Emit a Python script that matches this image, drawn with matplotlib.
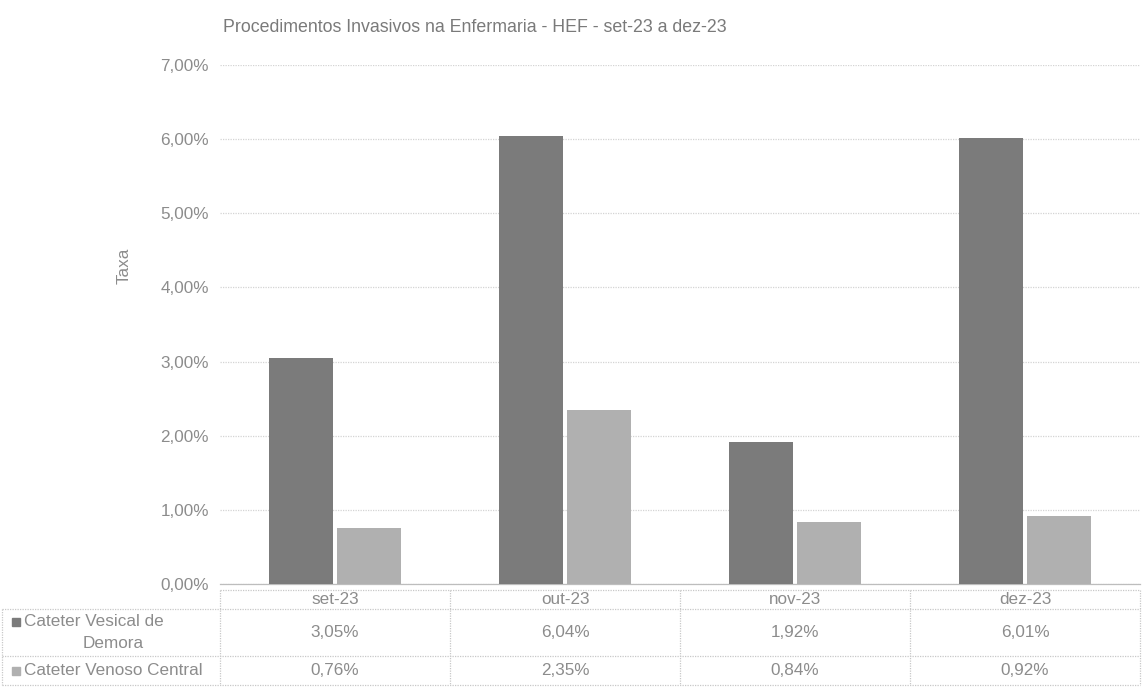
import matplotlib
matplotlib.use('Agg')
import matplotlib.pyplot as plt
from matplotlib.lines import Line2D
from matplotlib.ticker import FuncFormatter

plt.rcParams['font.family'] = ['Liberation Sans', 'DejaVu Sans']

categories = ['set-23', 'out-23', 'nov-23', 'dez-23']
series_names = ['Cateter Vesical de\nDemora', 'Cateter Venoso Central']
vesical = [3.05, 6.04, 1.92, 6.01]
venoso = [0.76, 2.35, 0.84, 0.92]
yticks = [0, 1, 2, 3, 4, 5, 6, 7]
title = 'Procedimentos Invasivos na Enfermaria - HEF - set-23 a dez-23'
ylabel = 'Taxa'

W, H = 1142, 691
fig = plt.figure(figsize=(W / 100, H / 100), dpi=100)

def fx(x):
    return x / W

def fy(y):
    return 1 - y / H

dark = '#7b7b7b'
light = '#b0b0b0'
txt = '#8c8c8c'
grid = '#d4d4d4'
fs = 12.3

left, right, top, bottom = 220, 1140, 65, 584
ax = fig.add_axes([fx(left), fy(bottom), fx(right) - fx(left), fy(top) - fy(bottom)])

xs = list(range(len(categories)))
bw = 0.278
off = 0.149
ax.bar([x - off for x in xs], vesical, width=bw, color=dark, zorder=3)
ax.bar([x + off for x in xs], venoso, width=bw, color=light, zorder=3)

ax.set_xlim(-0.5, len(categories) - 0.5)
ax.set_ylim(0, 7)
ax.set_yticks(yticks)
ax.yaxis.set_major_formatter(FuncFormatter(lambda v, p: f'{v:.2f}%'.replace('.', ',')))
ax.tick_params(axis='y', length=0, pad=8, labelsize=fs, labelcolor=txt)
ax.set_xticks([])
ax.grid(axis='y', color=grid, linewidth=0.9, linestyle=(0, (1, 1)), zorder=0)
for s in ['top', 'right', 'left']:
    ax.spines[s].set_visible(False)
ax.spines['bottom'].set_color('#bdbdbd')
ax.spines['bottom'].set_linewidth(0.9)

fig.text(fx(475), fy(27), title, ha='center', va='center', fontsize=12.8, color='#7a7a7a')
fig.text(fx(124), fy(266), ylabel, rotation=90, ha='center', va='center', fontsize=fs, color=txt)

# data table
r0, r1, r2, r3 = 590, 609, 656, 685
col_edges = [left + i * (right - left) / len(categories) for i in range(len(categories) + 1)]
lc = '#c8c8c8'
lw = 0.9

def hline(y, x0, x1):
    fig.add_artist(Line2D([fx(x0), fx(x1)], [fy(y), fy(y)], color=lc, lw=lw, linestyle=(0, (1, 1))))

def vline(x, y0, y1):
    fig.add_artist(Line2D([fx(x), fx(x)], [fy(y0), fy(y1)], color=lc, lw=lw, linestyle=(0, (1, 1))))

hline(r0, left, right)
hline(r1, 2, right)
hline(r2, 2, right)
hline(r3, 2, right)
vline(2, r1, r3)
for xe in col_edges:
    vline(xe, r0, r3)

def fmt(v):
    return f'{v:.2f}%'.replace('.', ',')

for i, c in enumerate(categories):
    cx = (col_edges[i] + col_edges[i + 1]) / 2
    fig.text(fx(cx), fy((r0 + r1) / 2), c, ha='center', va='center', fontsize=fs, color=txt)
    fig.text(fx(cx), fy((r1 + r2) / 2), fmt(vesical[i]), ha='center', va='center', fontsize=fs, color=txt)
    fig.text(fx(cx), fy((r2 + r3) / 2), fmt(venoso[i]), ha='center', va='center', fontsize=fs, color=txt)

# row labels with legend keys
lines1 = series_names[0].split('\n')
fig.text(fx(24), fy(622), lines1[0], ha='left', va='center', fontsize=fs, color=txt)
fig.text(fx(113), fy(643), lines1[1], ha='center', va='center', fontsize=fs, color=txt)
fig.text(fx(24), fy((r2 + r3) / 2), series_names[1], ha='left', va='center', fontsize=fs, color=txt)
fig.add_artist(Line2D([fx(16)], [fy(622)], marker='s', markersize=5.5, color=dark, linestyle='none'))
fig.add_artist(Line2D([fx(16)], [fy((r2 + r3) / 2)], marker='s', markersize=5.5, color=light, linestyle='none'))

fig.savefig('out.png', dpi=100, facecolor='white')
